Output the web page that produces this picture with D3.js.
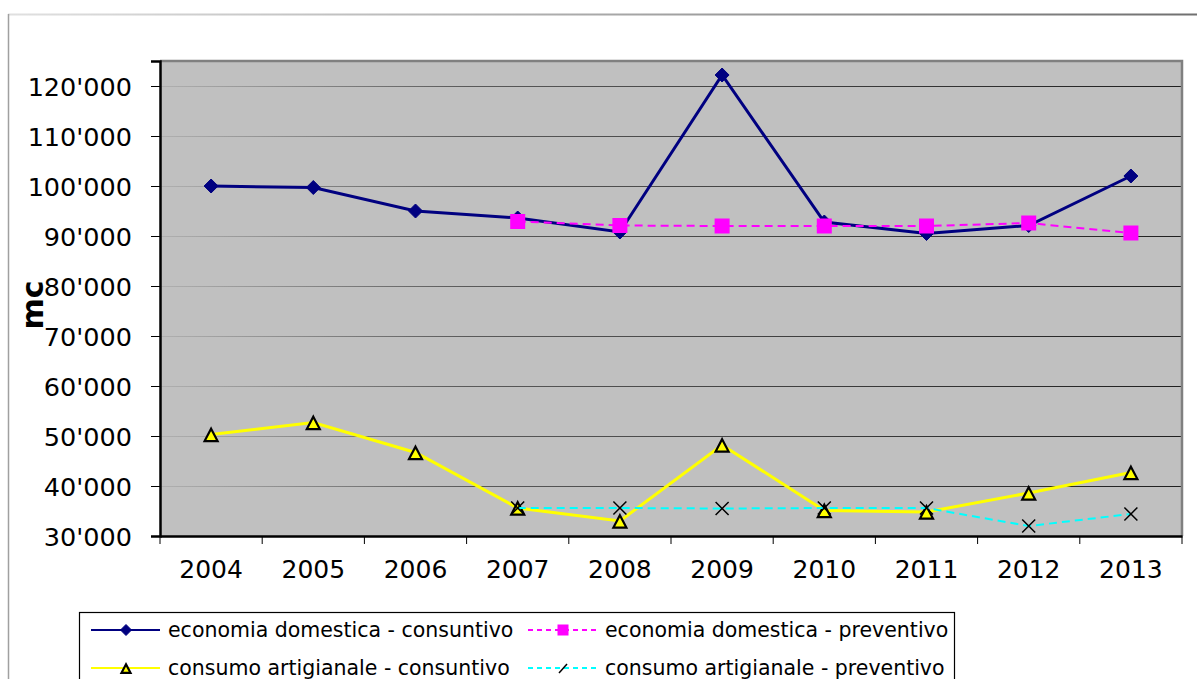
<!DOCTYPE html>
<html>
<head>
<meta charset="utf-8">
<script src="https://cdn.jsdelivr.net/npm/d3@7"></script>
<style>
  html, body { margin: 0; padding: 0; background: #fff; }
  svg { display: block; font-family: "DejaVu Sans", Verdana, sans-serif; }
</style>
</head>
<body>
<svg id="chart" width="1197" height="679"></svg>
<script>
const years = ["2004","2005","2006","2007","2008","2009","2010","2011","2012","2013"];
const ecoConsuntivo = [100000, 99700, 95000, 93600, 90800, 122200, 92800, 90500, 92100, 102000];
const ecoPreventivo = [null, null, null, 92900, 92100, 92000, 92000, 92000, 92600, 90600];
const artConsuntivo = [50300, 52700, 46700, 35600, 33000, 48200, 35100, 34800, 38600, 42700];
const artPreventivo = [null, null, null, 35600, 35600, 35500, 35600, 35600, 32000, 34400];
const yTicks = [30000, 40000, 50000, 60000, 70000, 80000, 90000, 100000, 110000, 120000];
const seriesNames = ["economia domestica - consuntivo", "economia domestica - preventivo",
                     "consumo artigianale - consuntivo", "consumo artigianale - preventivo"];

const svg = d3.select("#chart");
const plot = {left: 160, right: 1182, top: 61, bottom: 536};

const x = d3.scaleBand().domain(years).range([plot.left, plot.right]).padding(0);
const y = d3.scaleLinear().domain([30000, 125000]).range([plot.bottom, plot.top]);
const cx = d => x(d) + x.bandwidth() / 2;

// outer chart frame
const defs = svg.append("defs");
const fg = defs.append("linearGradient").attr("id", "frameGrad").attr("gradientUnits", "userSpaceOnUse")
  .attr("x1", 8).attr("x2", 1197).attr("y1", 0).attr("y2", 0);
fg.append("stop").attr("offset", 0).attr("stop-color", "#e0e0e0");
fg.append("stop").attr("offset", 1).attr("stop-color", "#707070");
svg.append("line").attr("x1", 8).attr("x2", 1197).attr("y1", 14.5).attr("y2", 14.5)
  .attr("stroke", "url(#frameGrad)").attr("stroke-width", 2);
svg.append("line").attr("x1", 8.5).attr("x2", 8.5).attr("y1", 14).attr("y2", 679)
  .attr("stroke", "#a0a0a0").attr("stroke-width", 1.5);

// plot area
svg.append("rect").attr("x", plot.left).attr("y", plot.top)
  .attr("width", plot.right - plot.left).attr("height", plot.bottom - plot.top)
  .attr("fill", "#c0c0c0");

// gridlines with gradient
const gg = defs.append("linearGradient").attr("id", "gridGrad").attr("gradientUnits", "userSpaceOnUse")
  .attr("x1", plot.left).attr("x2", plot.right).attr("y1", 0).attr("y2", 0);
gg.append("stop").attr("offset", 0).attr("stop-color", "#b0b0b0");
gg.append("stop").attr("offset", 0.3).attr("stop-color", "#5a5a5a");
gg.append("stop").attr("offset", 1).attr("stop-color", "#202020");
svg.append("g").selectAll("line").data(yTicks.slice(1)).join("line")
  .attr("x1", plot.left).attr("x2", plot.right)
  .attr("y1", d => Math.round(y(d)) + 0.5).attr("y2", d => Math.round(y(d)) + 0.5)
  .attr("stroke", "url(#gridGrad)").attr("stroke-width", 1.2);

// top/right border gray
svg.append("path")
  .attr("d", `M${plot.left},${plot.top} H${plot.right} V${plot.bottom}`)
  .attr("fill", "none").attr("stroke", "#808080").attr("stroke-width", 2.5);

// Y axis
const yAxis = d3.axisLeft(y).tickValues(yTicks).tickSize(9).tickPadding(19)
  .tickFormat(d => d3.format(",")(d).replace(/,/g, "'"));
const gy = svg.append("g").attr("transform", `translate(${plot.left},0)`).call(yAxis);
gy.select(".domain").attr("stroke", "#000").attr("stroke-width", 2.5);
gy.selectAll(".tick line").attr("stroke", "#000").attr("stroke-width", 1);
gy.selectAll(".tick text").attr("font-size", 25.5).attr("font-family", "DejaVu Sans")
  .attr("fill", "#000").attr("dy", "0.36em");

// X axis
const xAxis = d3.axisBottom(x).tickSize(0).tickPadding(24);
const gx = svg.append("g").attr("transform", `translate(0,${plot.bottom})`).call(xAxis);
gx.select(".domain").attr("stroke", "#000").attr("stroke-width", 2.5);
gx.selectAll(".tick text").attr("font-size", 25).attr("font-family", "DejaVu Sans").attr("fill", "#000");
// boundary ticks
const bounds = years.map(d => x(d)).concat([plot.right]);
svg.append("g").selectAll("line").data(bounds).join("line")
  .attr("x1", d => d).attr("x2", d => d)
  .attr("y1", plot.bottom).attr("y2", plot.bottom + 8)
  .attr("stroke", "#000").attr("stroke-width", 1);

// Y title
svg.append("text").attr("transform", "translate(43,305) rotate(-90)")
  .attr("text-anchor", "middle").attr("font-size", 30).attr("font-weight", "bold")
  .attr("font-family", "DejaVu Sans").attr("fill", "#000").text("mc");

// helpers
const pts = arr => years.map((yr, i) => ({yr, v: arr[i]})).filter(p => p.v != null);
const line = d3.line().x(p => cx(p.yr)).y(p => y(p.v));

function diamond(g, px, py, r, color) {
  g.append("path").attr("d", `M${px},${py - r} L${px + r},${py} L${px},${py + r} L${px - r},${py} Z`)
    .attr("fill", color).attr("stroke", color).attr("stroke-width", 1);
}
function square(g, px, py, s, color) {
  g.append("rect").attr("x", px - s / 2).attr("y", py - s / 2).attr("width", s).attr("height", s)
    .attr("fill", color);
}
function triangle(g, px, py, s) {
  const h = s * 0.95;
  g.append("path").attr("d", `M${px},${py - h * 0.55} L${px + s / 2},${py + h * 0.45} L${px - s / 2},${py + h * 0.45} Z`)
    .attr("fill", "#ffff00").attr("stroke", "#000").attr("stroke-width", 2.2).attr("stroke-linejoin", "miter");
}
function cross(g, px, py, r) {
  g.append("path").attr("d", `M${px - r},${py - r} L${px + r},${py + r} M${px + r},${py - r} L${px - r},${py + r}`)
    .attr("stroke", "#000").attr("stroke-width", 1.5).attr("fill", "none");
}

const gS = svg.append("g");
// series 1
gS.append("path").datum(pts(ecoConsuntivo)).attr("d", line)
  .attr("fill", "none").attr("stroke", "#000080").attr("stroke-width", 3);
pts(ecoConsuntivo).forEach(p => diamond(gS, cx(p.yr), y(p.v), 7, "#000080"));
// series 2
gS.append("path").datum(pts(ecoPreventivo)).attr("d", line)
  .attr("fill", "none").attr("stroke", "#ff00ff").attr("stroke-width", 2).attr("stroke-dasharray", "8,5");
pts(ecoPreventivo).forEach(p => square(gS, cx(p.yr), y(p.v), 15, "#ff00ff"));
// series 3
gS.append("path").datum(pts(artConsuntivo)).attr("d", line)
  .attr("fill", "none").attr("stroke", "#ffff00").attr("stroke-width", 3);
pts(artConsuntivo).forEach(p => triangle(gS, cx(p.yr), y(p.v) + 1, 13));
// series 4
gS.append("path").datum(pts(artPreventivo)).attr("d", line)
  .attr("fill", "none").attr("stroke", "#00ffff").attr("stroke-width", 2).attr("stroke-dasharray", "8,5");
pts(artPreventivo).forEach(p => cross(gS, cx(p.yr), y(p.v), 6.5));

// legend
const lg = svg.append("g");
lg.append("rect").attr("x", 79.5).attr("y", 612.5).attr("width", 875).attr("height", 80)
  .attr("fill", "#fff").attr("stroke", "#000").attr("stroke-width", 1.2);
const legendItems = [
  {name: seriesNames[0], col: 0, row: 0, color: "#000080", dash: null, mk: "diamond"},
  {name: seriesNames[1], col: 1, row: 0, color: "#ff00ff", dash: "5,4", mk: "square"},
  {name: seriesNames[2], col: 0, row: 1, color: "#ffff00", dash: null, mk: "triangle"},
  {name: seriesNames[3], col: 1, row: 1, color: "#00ffff", dash: "5,4", mk: "slash"}
];
const colX = [91, 528];
const rowY = [630, 668];
legendItems.forEach(it => {
  const x0 = colX[it.col], yy = rowY[it.row];
  const l = lg.append("line").attr("x1", x0).attr("x2", x0 + 69).attr("y1", yy).attr("y2", yy)
    .attr("stroke", it.color).attr("stroke-width", 2);
  if (it.dash) l.attr("stroke-dasharray", it.dash);
  const mx = x0 + 35;
  if (it.mk === "diamond") diamond(lg, mx, yy, 5.5, it.color);
  if (it.mk === "square") square(lg, mx, yy, 11, it.color);
  if (it.mk === "triangle") triangle(lg, mx, yy + 1, 9);
  if (it.mk === "slash") lg.append("path").attr("d", `M${mx - 4},${yy + 5} L${mx + 4},${yy - 4}`)
    .attr("stroke", "#000").attr("stroke-width", 1.5);
  lg.append("text").attr("x", x0 + 77).attr("y", yy).attr("dy", "0.35em")
    .attr("font-size", 20.5).attr("font-family", "DejaVu Sans").attr("fill", "#000").text(it.name);
});
</script>
</body>
</html>
